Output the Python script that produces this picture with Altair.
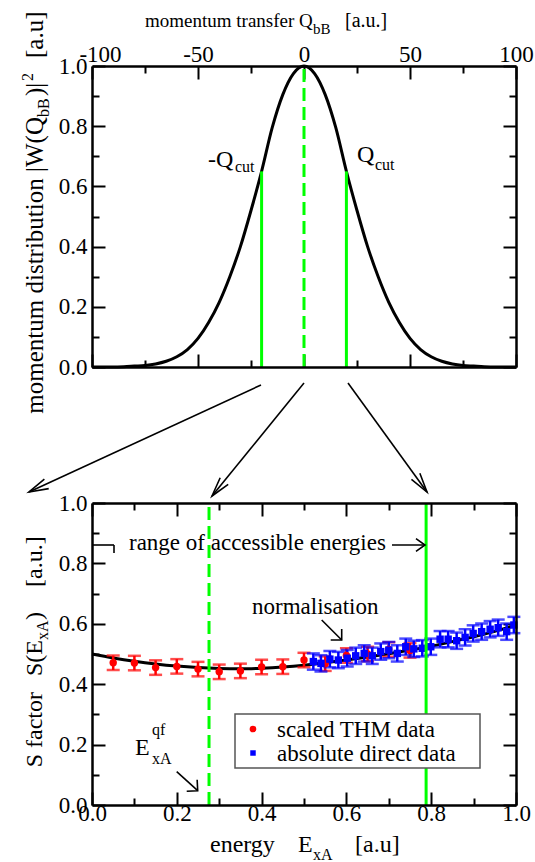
import math
import altair as alt
import pandas as pd

FONT = "Liberation Serif, Times New Roman, serif"

# ---------------- data ----------------
# top panel: momentum distribution |W(Q)|^2
Q_vals = [-100, -95, -90, -85, -80, -75, -70, -65, -60, -55, -50, -45, -40, -35, -30, -25, -20, -15, -10, -5,
          0, 5, 10, 15, 20, 25, 30, 35, 40, 45, 50, 55, 60, 65, 70, 75, 80, 85, 90, 95, 100]
W_vals = [0.0, 0.0, 0.0, 0.001, 0.003, 0.005, 0.010, 0.019, 0.034, 0.058, 0.095, 0.148, 0.215, 0.30, 0.40, 0.52, 0.65, 0.795, 0.905, 0.975,
          1.0, 0.975, 0.905, 0.795, 0.65, 0.52, 0.40, 0.30, 0.215, 0.148, 0.095, 0.058, 0.034, 0.019, 0.010, 0.005, 0.003, 0.001, 0.0, 0.0, 0.0]
Q_cut = [-20, 20]
W_cut = [0.65, 0.65]
Q_centre = [0]

# bottom panel: S factor
E_curve = [0.0, 0.05, 0.1, 0.15, 0.2, 0.25, 0.3, 0.35, 0.4, 0.45, 0.5, 0.55, 0.6, 0.65, 0.7, 0.75, 0.8, 0.85, 0.9, 0.95, 1.0]
S_curve = [0.500, 0.487, 0.476, 0.467, 0.460, 0.455, 0.452, 0.451, 0.453, 0.457, 0.463, 0.471, 0.480, 0.490, 0.501, 0.513, 0.526, 0.541, 0.557, 0.575, 0.595]

E_thm = [0.05, 0.10, 0.15, 0.20, 0.25, 0.30, 0.35, 0.40, 0.45, 0.50, 0.55, 0.60, 0.65, 0.70, 0.75]
S_thm = [0.471, 0.470, 0.455, 0.459, 0.450, 0.441, 0.444, 0.457, 0.458, 0.480, 0.468, 0.495, 0.500, 0.515, 0.512]
dS_thm = [0.024] * 15

E_dir = [0.522, 0.540, 0.561, 0.581, 0.602, 0.622, 0.642, 0.661, 0.681, 0.700, 0.720, 0.740, 0.759,
         0.779, 0.799, 0.821, 0.840, 0.860, 0.880, 0.899, 0.919, 0.939, 0.958, 0.978, 0.995]
S_dir = [0.475, 0.469, 0.483, 0.480, 0.486, 0.494, 0.502, 0.494, 0.508, 0.513, 0.502, 0.524, 0.517,
         0.519, 0.524, 0.549, 0.549, 0.544, 0.555, 0.568, 0.574, 0.582, 0.587, 0.574, 0.596]
dS_dir = [0.027] * 25

E_qf = [0.276]
E_max = [0.788]

series_names = ["scaled THM data", "absolute direct data"]
series_colors = ["#ff0000", "#0000ff"]
series_shapes = ["circle", "square"]

top_x_major = [-100, -50, 0, 50, 100]
top_x_minor = [-75, -25, 25, 75]
bot_x_major = [0.0, 0.2, 0.4, 0.6, 0.8, 1.0]
bot_x_minor = [0.1, 0.3, 0.5, 0.7, 0.9]
y_major = [0.0, 0.2, 0.4, 0.6, 0.8, 1.0]
y_minor = [0.1, 0.3, 0.5, 0.7, 0.9]

# ---------------- layout ----------------
PW = 424
TOP_H = 301
GAP = 136
BOT_H = 302
H = TOP_H + GAP + BOT_H
MAJ = 13
MIN = 7
GREEN = "#00ff00"
LABEL_SIZE = 23

qx = alt.Scale(domain=[-100, 100], nice=False, zero=False)
wy = alt.Scale(domain=[0, 1], range=[TOP_H, 0], nice=False, zero=False)
ex = alt.Scale(domain=[0, 1], nice=False, zero=False)
sy = alt.Scale(domain=[0, 1], range=[H, TOP_H + GAP], nice=False, zero=False)

one = pd.DataFrame({"k": [0]})


def axis(orient, values, offset=0, tick=0, labels=False, domain=False, fmt="''", lpad=5, lbase=None, loff=None):
    kw = dict(orient=orient, values=values, offset=offset, grid=False, labels=labels,
              domain=domain, ticks=tick > 0, tickSize=tick)
    if tick > 0:
        kw.update(tickWidth=2, tickColor="black")
    if domain:
        kw.update(domainWidth=2.5, domainColor="black", zindex=1)
    if labels:
        kw.update(labelFont=FONT, labelFontSize=LABEL_SIZE, labelColor="black", labelOverlap=False,
                  labelFlush=False, labelPadding=lpad, labelExpr=fmt)
        if lbase:
            kw["labelBaseline"] = lbase
        if loff:
            kw["labelOffset"] = loff
    return alt.Axis(**kw)


def carrier(df, xs, ys, xa, ya):
    return alt.Chart(df).mark_point(opacity=0).encode(
        x=alt.X("x:Q", scale=xs, axis=xa, title=None),
        y=alt.Y("y:Q", scale=ys, axis=ya, title=None),
    )


def txt(s, x, y, size=24, align="left", angle=0):
    kw = dict(text=s, font=FONT, fontSize=size, align=align, baseline="alphabetic", color="black")
    if angle:
        kw["angle"] = angle
    return alt.Chart(one).mark_text(**kw).encode(x=alt.value(x), y=alt.value(y))


def seg(x1, y1, x2, y2, w=1.6):
    return alt.Chart(one).mark_rule(color="black", strokeWidth=w).encode(
        x=alt.value(x1), y=alt.value(y1), x2=alt.value(x2), y2=alt.value(y2))


def arrow(x1, y1, x2, y2, arm=18, spread=15, w=1.6):
    ang = math.degrees(math.atan2(y2 - y1, x2 - x1)) % 360
    t = math.tan(math.radians(spread))
    s = arm / math.sqrt(1 + t * t)
    path = f"M -1 {-t:.3f} L 0 0 L -1 {t:.3f}"
    head = alt.Chart(one).mark_point(shape=path, filled=False, color="black", strokeWidth=w,
                                     size=(2 * s) ** 2, angle=ang, opacity=1).encode(
        x=alt.value(x2), y=alt.value(y2))
    return [seg(x1, y1, x2, y2, w), head]


yfmt = "format(datum.value, '.1f')"
qfmt = "'' + datum.value"
q_label_shift = {"condition": {"test": "datum.value == -100", "value": 8}, "value": 0}

top_c = pd.DataFrame({"x": [-100, 100], "y": [0, 1]})
bot_c = pd.DataFrame({"x": [0, 1], "y": [0, 1]})
top_off = -(H - TOP_H)
bot_off = -(TOP_H + GAP)

axes_layers = [
    # top panel
    carrier(top_c, qx, wy, axis("top", top_x_major, 0, 0, True, True, qfmt, 5, "alphabetic", q_label_shift),
            axis("left", y_major, 0, 0, True, True, yfmt, 5)),
    carrier(top_c, qx, wy, axis("top", top_x_major, -MAJ, MAJ), axis("left", y_major, -MAJ, MAJ)),
    carrier(top_c, qx, wy, axis("top", top_x_minor, -MIN, MIN), axis("left", y_minor, -MIN, MIN)),
    carrier(top_c, qx, wy, axis("bottom", top_x_major, top_off, 0, domain=True), axis("right", y_major, 0, 0, domain=True)),
    carrier(top_c, qx, wy, axis("bottom", top_x_major, top_off - MAJ, MAJ), axis("right", y_major, -MAJ, MAJ)),
    carrier(top_c, qx, wy, axis("bottom", top_x_minor, top_off - MIN, MIN), axis("right", y_minor, -MIN, MIN)),
    # bottom panel
    carrier(bot_c, ex, sy, axis("bottom", bot_x_major, 0, 0, True, True, yfmt, 15, "alphabetic"),
            axis("left", y_major, 0, 0, True, True, yfmt, 5)),
    carrier(bot_c, ex, sy, axis("bottom", bot_x_major, -MAJ, MAJ), axis("left", y_major, -MAJ, MAJ)),
    carrier(bot_c, ex, sy, axis("bottom", bot_x_minor, -MIN, MIN), axis("left", y_minor, -MIN, MIN)),
    carrier(bot_c, ex, sy, axis("top", bot_x_major, bot_off, 0, domain=True), axis("right", y_major, 0, 0, domain=True)),
    carrier(bot_c, ex, sy, axis("top", bot_x_major, bot_off - MAJ, MAJ), axis("right", y_major, -MAJ, MAJ)),
    carrier(bot_c, ex, sy, axis("top", bot_x_minor, bot_off - MIN, MIN), axis("right", y_minor, -MIN, MIN)),
]

# ---------------- top panel content ----------------
gauss = alt.Chart(pd.DataFrame({"Q": Q_vals, "W": W_vals})).mark_line(
    color="black", strokeWidth=3, interpolate="monotone").encode(
    x=alt.X("Q:Q", scale=qx, axis=None), y=alt.Y("W:Q", scale=wy, axis=None))

cut_lines = alt.Chart(pd.DataFrame({"Q": Q_cut, "lo": [0, 0], "hi": W_cut})).mark_rule(
    color=GREEN, strokeWidth=3).encode(
    x=alt.X("Q:Q", scale=qx, axis=None), y=alt.Y("lo:Q", scale=wy, axis=None), y2="hi:Q")

centre_line = alt.Chart(pd.DataFrame({"Q": Q_centre, "lo": [0], "hi": [1]})).mark_rule(
    color=GREEN, strokeWidth=3, strokeDash=[13, 6]).encode(
    x=alt.X("Q:Q", scale=qx, axis=None), y=alt.Y("lo:Q", scale=wy, axis=None), y2="hi:Q")

# ---------------- bottom panel content ----------------
scurve = alt.Chart(pd.DataFrame({"E": E_curve, "S": S_curve})).mark_line(
    color="black", strokeWidth=3, interpolate="monotone").encode(
    x=alt.X("E:Q", scale=ex, axis=None), y=alt.Y("S:Q", scale=sy, axis=None))

thm = pd.DataFrame({"E": E_thm, "S": S_thm,
                    "lo": [s - d for s, d in zip(S_thm, dS_thm)],
                    "hi": [s + d for s, d in zip(S_thm, dS_thm)],
                    "series": series_names[0]})
dire = pd.DataFrame({"E": E_dir, "S": S_dir,
                     "lo": [s - d for s, d in zip(S_dir, dS_dir)],
                     "hi": [s + d for s, d in zip(S_dir, dS_dir)],
                     "series": series_names[1]})


def errbars(df, col):
    return alt.Chart(df).mark_errorbar(ticks=True, size=13, thickness=2.5, color=col).encode(
        x=alt.X("E:Q", scale=ex, axis=None), y=alt.Y("lo:Q", scale=sy, axis=None, title=None), y2="hi:Q")


eb_thm = errbars(thm, series_colors[0])
eb_dir = errbars(dire, series_colors[1])

points = alt.Chart(pd.concat([thm, dire])).mark_point(filled=True, opacity=1, size=55).encode(
    x=alt.X("E:Q", scale=ex, axis=None),
    y=alt.Y("S:Q", scale=sy, axis=None),
    color=alt.Color("series:N", scale=alt.Scale(domain=series_names, range=series_colors), legend=None),
    shape=alt.Shape("series:N", scale=alt.Scale(domain=series_names, range=series_shapes), legend=None),
)

qf_line = alt.Chart(pd.DataFrame({"E": E_qf, "lo": [0], "hi": [1]})).mark_rule(
    color=GREEN, strokeWidth=3, strokeDash=[13, 6]).encode(
    x=alt.X("E:Q", scale=ex, axis=None), y=alt.Y("lo:Q", scale=sy, axis=None), y2="hi:Q")
max_line = alt.Chart(pd.DataFrame({"E": E_max, "lo": [0], "hi": [1]})).mark_rule(
    color=GREEN, strokeWidth=3).encode(
    x=alt.X("E:Q", scale=ex, axis=None), y=alt.Y("lo:Q", scale=sy, axis=None), y2="hi:Q")

# ---------------- legend box (drawn) ----------------
legend_box = alt.Chart(one).mark_rect(fill="white", stroke="#555555", strokeWidth=1.5).encode(
    x=alt.value(143), x2=alt.value(388), y=alt.value(648), y2=alt.value(702))
legend_syms = [
    alt.Chart(one).mark_point(shape=series_shapes[0], filled=True, opacity=1, color=series_colors[0], size=45).encode(
        x=alt.value(161), y=alt.value(663)),
    alt.Chart(one).mark_point(shape=series_shapes[1], filled=True, opacity=1, color=series_colors[1], size=30).encode(
        x=alt.value(161), y=alt.value(687)),
]

# ---------------- texts & arrows (pixel positions relative to plot origin) ----------------
texts = [
    # top title
    txt("momentum transfer Q", 53, -39, 19),
    txt("bB", 221, -32, 15),
    txt("[a.u.]", 253, -39, 20),
    # top y title (rotated)
    txt("momentum distribution |W(Q", -49, 51, 25, "right", 270),
    txt("bB", -43, 51, 16, "left", 270),
    txt(")|", -49, 30, 25, "left", 270),
    txt("2", -59, 15, 16, "left", 270),
    txt("[a.u]", -49, -8, 25, "left", 270),
    # Qcut labels
    txt("-Q", 116, 101, 24),
    txt("cut", 143, 106, 16),
    txt("Q", 265, 96, 24),
    txt("cut", 283, 104, 16),
    # bottom y title
    txt("S factor", -50, 626, 24, "right", 270),
    txt("S(E", -50, 574, 24, "right", 270),
    txt("xA", -44, 574, 16, "left", 270),
    txt(")", -50, 554, 24, "left", 270),
    txt("[a.u.]", -50, 521, 24, "left", 270),
    # bottom x title
    txt("energy", 118, 786, 24),
    txt("E", 206, 786, 24),
    txt("xA", 221, 794, 16),
    txt("[a.u]", 263, 786, 24),
    # annotations
    txt("range of accessible energies", 37, 484, 23),
    txt("normalisation", 160, 548, 23),
    txt("E", 43, 689, 24),
    txt("qf", 60, 669, 16),
    txt("xA", 60, 698, 16),
    # legend labels
    txt(series_names[0], 185, 671, 23),
    txt(series_names[1], 185, 695, 23),
]

arrows = []
arrows += arrow(169, 319, -63, 426, 20, 15)
arrows += arrow(212, 317, 120, 430, 20, 15)
arrows += arrow(256, 317, 335, 426, 20, 15)
arrows += arrow(300, 479, 333, 479, 11, 35)
arrows += arrow(229.7, 554, 249.7, 574, 11, 45)
arrows += arrow(84.7, 705.7, 105.7, 724.7, 11, 45)
arrows += [seg(1, 479, 22, 479), seg(22, 479, 22, 487)]

layers = (axes_layers
          + [gauss, cut_lines, centre_line, scurve, eb_thm, eb_dir, points, qf_line, max_line, legend_box]
          + legend_syms + texts + arrows)

chart = alt.layer(*layers).resolve_scale(x="independent", y="independent").resolve_axis(
    x="independent", y="independent").properties(
    width=PW, height=H,
    autosize=alt.AutoSizeParams(type="none"),
    padding={"left": 92, "top": 66, "right": 19, "bottom": 57},
    background="white",
).configure_view(stroke=None)

chart.save("out.html", embed_options={"renderer": "svg", "actions": False})
